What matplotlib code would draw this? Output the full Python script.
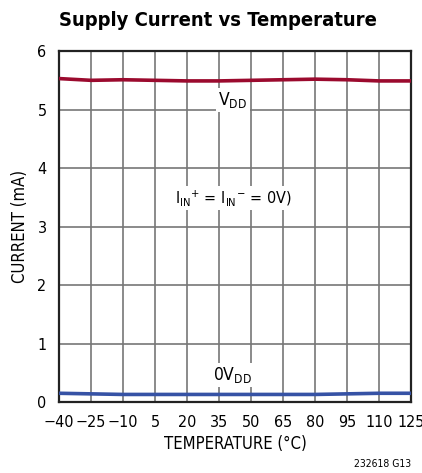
import numpy as np
import matplotlib.pyplot as plt

plt.rcParams['font.family'] = ['DejaVu Sans']
plt.rcParams['font.stretch'] = 'condensed'
plt.rcParams['mathtext.fontset'] = 'custom'
plt.rcParams['mathtext.rm'] = 'DejaVu Sans:stretch=condensed'

temp = [-40, -25, -10, 5, 20, 35, 50, 65, 80, 95, 110, 125]
vdd = [5.53, 5.50, 5.51, 5.50, 5.49, 5.49, 5.50, 5.51, 5.52, 5.51, 5.49, 5.49]
ovdd = [0.15, 0.14, 0.13, 0.13, 0.13, 0.13, 0.13, 0.13, 0.13, 0.14, 0.15, 0.15]
xticklabels = ['\u221240', '\u221225', '\u221210', '5', '20', '35', '50', '65', '80', '95', '110', '125']

fig = plt.figure(figsize=(4.22, 4.73), dpi=100)
ax = fig.add_axes([0.140, 0.150, 0.834, 0.742])

ax.plot(temp, vdd, color='#9b0a2e', lw=2.6, zorder=3)
ax.plot(temp, ovdd, color='#3652a5', lw=2.6, zorder=3)

ax.set_xlim(-40, 125)
ax.set_ylim(0, 6)
ax.set_xticks(temp)
ax.set_xticklabels(xticklabels)
ax.set_yticks(range(7))
ax.grid(True, color='#777777', lw=1.2)
ax.tick_params(axis='x', length=0, labelsize=11.5, pad=9)
ax.tick_params(axis='y', length=0, labelsize=11.5, pad=9)
for s in ax.spines.values():
    s.set_linewidth(1.6)
    s.set_color('#222222')

box = dict(facecolor='white', edgecolor='none', pad=1.5)
ax.text(41.5, 5.16, 'V$_{\\mathrm{DD}}$', ha='center', va='center', fontsize=12.5, bbox=box)
ax.text(41.5, 3.49, 'I$_{\\mathrm{IN}}$$^{\\mathrm{+}}$ = I$_{\\mathrm{IN}}$$^{\\mathrm{\u2212}}$ = 0V)',
        ha='center', va='center', fontsize=11.5, bbox=box)
ax.text(41.5, 0.46, '0V$_{\\mathrm{DD}}$', ha='center', va='center', fontsize=12.5, bbox=box)

ax.set_xlabel('TEMPERATURE (\u00b0C)', fontsize=12, labelpad=4)
ax.set_ylabel('CURRENT (mA)', fontsize=12, labelpad=6)

fig.text(0.140, 0.957, 'Supply Current vs Temperature', fontsize=14.5, fontweight='bold', ha='left', va='center')
fig.text(0.974, 0.018, '232618 G13', fontsize=7.5, ha='right', va='center')

fig.savefig('out.png', dpi=100)
